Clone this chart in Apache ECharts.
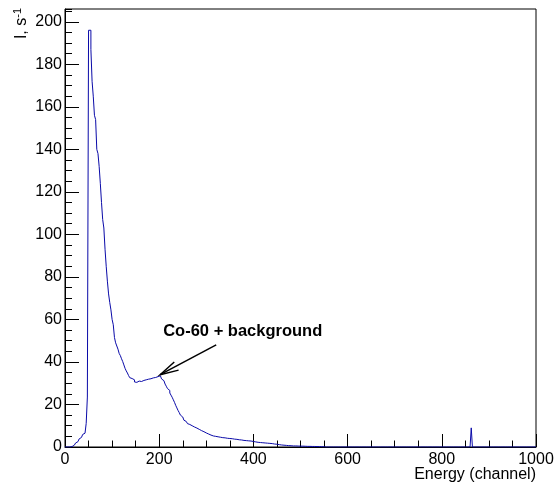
<!DOCTYPE html>
<html>
<head>
<meta charset="utf-8">
<script src="https://cdn.jsdelivr.net/npm/echarts@6/dist/echarts.min.js"></script>
<style>
  html, body { margin: 0; padding: 0; background: #ffffff; }
  #chart { width: 556px; height: 486px; }
</style>
</head>
<body>
<div id="chart"></div>
<script>
// Spectrum binning: 400 bins of 2.5 channels across 0..1000
const binWidth = 2.5;
const channelMax = 1000;

// Count rate (s^-1) per bin, starting at channel 0 (bins beyond this list are empty)
const rateLow = [
  0, 0, 0, 0, 0, 0.2, 0.5, 0.9, 1.4, 1.9, 2.5, 3.1, 3.8, 4.5, 5.3, 5.9, 6.5, 7.3, 11.1, 23.5,          // 0-50
  196, 196, 187, 172, 165, 156, 154, 140, 138, 132, 124, 115, 107, 103, 93, 85, 78, 72, 68, 64.5,       // 50-100
  60, 57.5, 51.5, 49, 47.5, 46, 44, 43, 41.5, 40.2, 38.6, 37, 35.8, 34.8, 33.6, 32.6, 32.2, 31.4, 31.6, 30.6, // 100-150
  30.4, 30.0, 31.0, 30.2, 30.8, 30.3, 31.3, 30.9, 31.6, 31.1, 31.9, 31.5, 32.1, 31.7, 32.5, 32.0, 32.7, 32.4, 33.1, 32.7, // 150-200
  33.5, 33.0, 32.0, 31.2, 30.5, 29.6, 28.6, 27.5, 26.6, 25.4, 24.4, 23.4, 22.2, 21.0, 19.6, 18.4, 17.2, 16.2, 15.0, 14.1, // 200-250
  13.2, 12.6, 12.0, 11.5, 11.0, 10.6, 10.3, 10.0, 9.7, 9.4, 9.2, 8.9, 8.7, 8.3, 8.0, 7.7, 7.5, 7.2, 6.9, 6.6, // 250-300
  6.3, 6.1, 5.8, 5.6, 5.4, 5.2, 5.1, 5.0, 4.9, 4.8, 4.7, 4.6, 4.5, 4.4, 4.4, 4.3, 4.2, 4.1, 4.0, 4.0,   // 300-350
  3.9, 3.9, 3.8, 3.7, 3.6, 3.6, 3.5, 3.4, 3.4, 3.3, 3.2, 3.1, 3.1, 3.0, 3.0, 2.9, 2.8, 2.8, 2.7, 2.6,   // 350-400
  2.5, 2.4, 2.3, 2.2, 2.2, 2.1, 2.1, 2.0, 2.0, 1.9, 1.9, 1.8, 1.8, 1.7, 1.7, 1.6, 1.5, 1.4, 1.4, 1.3,   // 400-450
  1.2, 1.1, 1.0, 0.95, 0.9, 0.85, 0.8, 0.75, 0.7, 0.65, 0.6, 0.6, 0.55, 0.5, 0.5, 0.5, 0.45, 0.45, 0.4, 0.4, // 450-500
  0.4, 0.4, 0.35, 0.35, 0.35, 0.3, 0.3, 0.3, 0.3, 0.25, 0.25, 0.25, 0.2, 0.2, 0.2, 0.2, 0.15, 0.15, 0.1, 0.1, // 500-550
  0, 0, 0, 0                                                                                              // 550-560
];

// Isolated line in the high-energy part of the spectrum
const lineBinChannel = 862.5;
const lineBinRate = 9;

// Axis ranges and labels
const yMax = 206;
const xTitle = 'Energy (channel)';
const annotationText = 'Co-60 + background';
const annotationTip = [202, 34];     // channel, rate the arrow points at
const annotationTail = [321, 48];
const annotationLabelAt = [208.5, 54.2];

// Assemble the step outline from bin lower edges
const nBins = Math.round(channelMax / binWidth);
const rates = new Array(nBins).fill(0);
rateLow.forEach((v, i) => { rates[i] = v; });
rates[Math.round(lineBinChannel / binWidth)] = lineBinRate;
const histData = rates.map((v, i) => [i * binWidth, v]);
histData.push([channelMax, rates[nBins - 1]]);

const FONT = '"Liberation Sans", Arial, Helvetica, sans-serif';

const chart = echarts.init(document.getElementById('chart'), null, { renderer: 'canvas' });

const option = {
  animation: false,
  backgroundColor: '#ffffff',
  grid: {
    left: 65, right: 20, top: 9, bottom: 39,
    containLabel: false,
    outerBoundsMode: 'none',
    show: true,
    borderColor: '#000000',
    borderWidth: 1,
    backgroundColor: 'transparent'
  },
  xAxis: {
    type: 'value',
    min: 0,
    max: channelMax,
    interval: 200,
    axisLine: { show: true, onZero: false, lineStyle: { color: '#000000', width: 1 } },
    axisTick: { show: true, inside: true, length: 13, lineStyle: { color: '#000000', width: 1 } },
    minorTick: { show: true, splitNumber: 4, length: 6.5, lineStyle: { color: '#000000', width: 1 } },
    axisLabel: {
      show: true, color: '#000000', fontSize: 16, fontFamily: FONT, margin: 5,
      showMinLabel: true, showMaxLabel: true, hideOverlap: false,
      formatter: v => String(v)
    },
    splitLine: { show: false },
    minorSplitLine: { show: false }
  },
  yAxis: [
    {
      type: 'value',
      position: 'left',
      min: 0,
      max: yMax,
      interval: 20,
      axisLine: { show: true, onZero: false, lineStyle: { color: '#000000', width: 1 } },
      axisTick: { show: true, inside: true, length: 14, lineStyle: { color: '#000000', width: 1 } },
      axisLabel: {
        show: true, color: '#000000', fontSize: 16, fontFamily: FONT, margin: 3,
        showMinLabel: true, showMaxLabel: false, hideOverlap: false,
        formatter: v => (v % 20 === 0 ? String(v) : '')
      },
      splitLine: { show: false }
    },
    {
      // fine 5-unit ticks along the rate axis
      type: 'value',
      position: 'left',
      offset: 0,
      min: 0,
      max: yMax,
      interval: 5,
      axisLine: { show: false },
      axisTick: { show: true, inside: true, length: 7, lineStyle: { color: '#000000', width: 1 } },
      axisLabel: { show: false },
      splitLine: { show: false }
    }
  ],
  series: [
    {
      type: 'line',
      name: 'spectrum',
      xAxisIndex: 0,
      yAxisIndex: 0,
      data: histData,
      step: 'end',
      showSymbol: false,
      symbol: 'none',
      clip: true,
      lineStyle: { color: '#0a0aa8', width: 1 },
      itemStyle: { color: '#0a0aa8' },
      z: 3
    }
  ]
};

chart.setOption(option);

// Annotation arrow and label, placed through the grid's coordinate system
const toPx = p => chart.convertToPixel({ gridIndex: 0 }, p);
const tip = toPx(annotationTip);
const tail = toPx(annotationTail);
const ang = Math.atan2(tail[1] - tip[1], tail[0] - tip[0]);
const headLen = 19, headHalf = 14 * Math.PI / 180;
const h1 = [tip[0] + headLen * Math.cos(ang - headHalf), tip[1] + headLen * Math.sin(ang - headHalf)];
const h2 = [tip[0] + headLen * Math.cos(ang + headHalf), tip[1] + headLen * Math.sin(ang + headHalf)];
const labelPx = toPx(annotationLabelAt);

chart.setOption({
  graphic: [
    {
      type: 'line',
      shape: { x1: tail[0], y1: tail[1], x2: tip[0], y2: tip[1] },
      style: { stroke: '#000000', lineWidth: 1.5 },
      z: 10
    },
    {
      type: 'polyline',
      shape: { points: [h1, tip, h2] },
      style: { stroke: '#000000', lineWidth: 1.5, fill: null },
      z: 10
    },
    {
      type: 'text',
      x: labelPx[0],
      y: labelPx[1],
      style: {
        text: annotationText,
        fill: '#000000',
        font: 'bold 16.5px ' + FONT,
        align: 'left',
        verticalAlign: 'middle'
      },
      z: 10
    },
    {
      type: 'text',
      x: 536,
      y: 475,
      style: {
        text: xTitle,
        fill: '#000000',
        font: '16px ' + FONT,
        align: 'right',
        verticalAlign: 'middle'
      },
      z: 10
    },
    {
      type: 'text',
      x: 21.5,
      y: 8,
      rotation: Math.PI / 2,
      style: {
        text: 'I, s{sup|-1}',
        fill: '#000000',
        font: '16px ' + FONT,
        align: 'right',
        verticalAlign: 'middle',
        rich: {
          sup: { fontSize: 11, fontFamily: FONT, fill: '#000000', verticalAlign: 'top', padding: [0, 0, 8, 0] }
        }
      },
      z: 10
    }
  ]
});
</script>
</body>
</html>
